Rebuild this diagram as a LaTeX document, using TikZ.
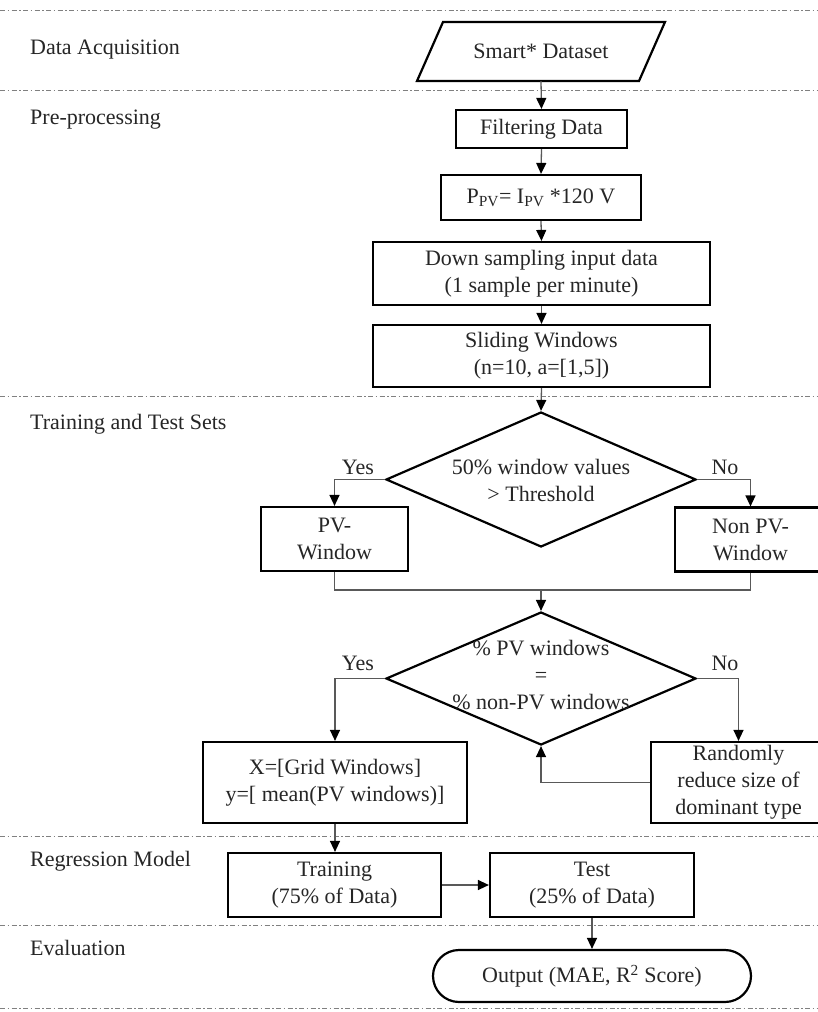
\documentclass[tikz,border=0pt]{standalone}
\usepackage{fontspec}
\setmainfont{Liberation Serif}
\usetikzlibrary{shapes.geometric,arrows.meta}
\begin{document}
\begin{tikzpicture}[x=1pt,y=-1pt,
  font=\fontsize{22}{27}\selectfont,
  every node/.style={text=black!85},
  box/.style={draw=black, line width=2.2pt, rectangle, align=center, inner sep=0pt},
  dec/.style={draw=black, line width=2.2pt, diamond, inner sep=0pt},
  conn/.style={draw=black!65, line width=1.3pt},
  arr/.style={conn, -{Triangle[length=11pt,width=10pt,color=black]}},
  sep/.style={draw=black!50, line width=1pt, dash pattern=on 5pt off 2.5pt on 1.5pt off 2.5pt},
  lab/.style={anchor=west, inner sep=0pt},
  yn/.style={inner sep=0pt}
]
\useasboundingbox (0,0) rectangle (818,1012);
\fill[white] (0,0) rectangle (818,1012);

% separators
\foreach \yy in {10,90,396,836,925,1008} {
  \draw[sep] (0,\yy) -- (818,\yy);
}

% section labels
\node[lab] (l1) at (30,50) {Data Acquisition};
\node[lab] (l2) at (30,120) {Pre-processing};
\node[lab] (l3) at (30,424) {Training and Test Sets};
\node[lab] (l4) at (30,861) {Regression Model};
\node[lab] (l5) at (30,948) {Evaluation};

% data acquisition
\draw[draw=black, line width=2.2pt, line join=miter] (443,22) -- (665,22) -- (639,81) -- (417,81) -- cycle;
\node[inner sep=0pt, minimum height=59] (smart) at (541,51.5) {Smart* Dataset};

% pre-processing
\node[box, minimum width=171, minimum height=38] (filt) at (541.5,129) {Filtering Data};
\node[box, minimum width=200, minimum height=45] (ppv) at (541,197.5) {P\textsubscript{PV}= I\textsubscript{PV} *120 V};
\node[box, minimum width=337, minimum height=63] (down) at (541.5,273.5) {Down sampling input data\\(1 sample per minute)};
\node[box, minimum width=337, minimum height=62] (slide) at (541.5,356) {Sliding Windows\\(n=10, a=[1,5])};

% training and test sets
\node[dec, minimum width=310, minimum height=135] (d1) at (541,479.5) {};
\node[align=center, inner sep=0pt] (d1t) at (541,480) {50\% window values\\> Threshold};
\node[box, minimum width=147, minimum height=64] (pv) at (334.5,539) {PV-\\Window};
\node[box, minimum width=151, minimum height=64] (npv) at (750.5,539.5) {Non PV-\\Window};
\coordinate (j1) at (541,590);
\node[dec, minimum width=310, minimum height=133] (d2) at (541,678.5) {};
\node[align=center, inner sep=0pt] (d2t) at (541,675) {\% PV windows\\=\\\% non-PV windows};
\node[box, minimum width=264, minimum height=81] (xbox) at (335,782.5) {X=[Grid Windows]\\y=[ mean(PV windows)]};
\node[box, minimum width=175, minimum height=81] (rand) at (738.5,782.5) {Randomly\\reduce size of\\dominant type};

\node[yn] (y1) at (358,467) {Yes};
\node[yn] (n1) at (725,467) {No};
\node[yn] (y2) at (358,663) {Yes};
\node[yn] (n2) at (725,663) {No};

% regression model
\node[box, minimum width=213, minimum height=64] (train) at (334.5,885) {Training\\(75\% of Data)};
\node[box, minimum width=204, minimum height=64] (test) at (592,885) {Test\\(25\% of Data)};

% evaluation
\node[box, rounded corners=26pt, minimum width=318, minimum height=52] (out) at (592,976) {Output (MAE, R\textsuperscript{2} Score)};

% connectors
\draw[arr] (smart.south) -- (filt.north);
\draw[arr] (filt.south) -- (ppv.north);
\draw[arr] (ppv.south) -- (down.north);
\draw[arr] (down.south) -- (slide.north);
\draw[arr] (slide.south) -- (d1.north);
\draw[arr] (d1.west) -| (pv.north);
\draw[arr] (d1.east) -| (npv.north);
\draw[conn] (pv.south) |- (j1) -| (npv.south);
\draw[arr] (j1) -- (d2.north);
\draw[arr] (d2.west) -| (xbox.north);
\draw[arr] (d2.east) -| (rand.north);
\draw[arr] (rand.west) -| (d2.south);
\draw[arr] (xbox.south) -- (xbox.south |- train.north);
\draw[arr] (train.east) -- (test.west);
\draw[arr] (test.south) -- (out.north);
\end{tikzpicture}
\end{document}
